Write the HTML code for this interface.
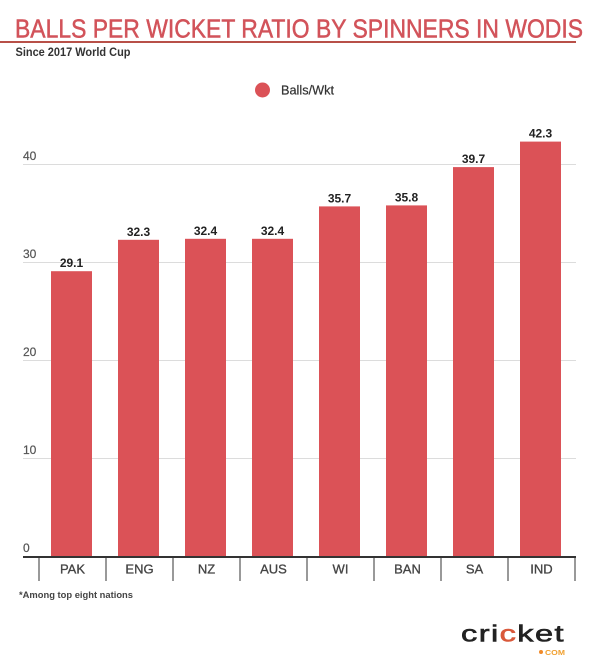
<!DOCTYPE html>
<html>
<head>
<meta charset="utf-8">
<style>
html,body{margin:0;padding:0;background:#fff;}
svg{display:block;}
text{font-family:"Liberation Sans",sans-serif;}
</style>
</head>
<body>
<svg width="600" height="671" viewBox="0 0 600 671" xmlns="http://www.w3.org/2000/svg">
  <rect width="600" height="671" fill="#fff"/>
  <!-- Title -->
  <text x="15" y="37.5" font-size="26" fill="#d2535a" stroke="#d2535a" stroke-width="0.5" textLength="568" lengthAdjust="spacingAndGlyphs">BALLS PER WICKET RATIO BY SPINNERS IN WODIS</text>
  <rect x="0" y="41" width="576" height="2" fill="#b85048"/>
  <text x="15.5" y="56" font-size="11.5" font-weight="bold" fill="#333" textLength="115" lengthAdjust="spacingAndGlyphs">Since 2017 World Cup</text>

  <!-- Legend -->
  <circle cx="262.5" cy="90" r="7.5" fill="#db5257"/>
  <text x="281" y="94.5" font-size="12.5" fill="#333" stroke="#333" stroke-width="0.2" textLength="53" lengthAdjust="spacingAndGlyphs">Balls/Wkt</text>

  <!-- Gridlines -->
  <g stroke="#dcdcdc" stroke-width="1">
    <line x1="23" y1="164.5" x2="576" y2="164.5"/>
    <line x1="23" y1="262.5" x2="576" y2="262.5"/>
    <line x1="23" y1="360.5" x2="576" y2="360.5"/>
    <line x1="23" y1="458.5" x2="576" y2="458.5"/>
  </g>
  <!-- Y labels -->
  <g font-size="12" fill="#555" stroke="#555" stroke-width="0.2">
    <text x="23" y="160">40</text>
    <text x="23" y="258">30</text>
    <text x="23" y="356">20</text>
    <text x="23" y="454">10</text>
    <text x="23" y="552">0</text>
  </g>

  <!-- Bars -->
  <g fill="#db5257">
    <rect x="51" y="271.2" width="41" height="285.8"/>
    <rect x="118" y="239.8" width="41" height="317.2"/>
    <rect x="185" y="238.8" width="41" height="318.2"/>
    <rect x="252" y="238.8" width="41" height="318.2"/>
    <rect x="319" y="206.4" width="41" height="350.6"/>
    <rect x="386" y="205.4" width="41" height="351.6"/>
    <rect x="453" y="167.1" width="41" height="389.9"/>
    <rect x="520" y="141.6" width="41" height="415.4"/>
  </g>
  <!-- Value labels -->
  <g font-size="12" font-weight="bold" fill="#222" text-anchor="middle">
    <text x="71.5" y="267.2">29.1</text>
    <text x="138.5" y="235.8">32.3</text>
    <text x="205.5" y="234.8">32.4</text>
    <text x="272.5" y="234.8">32.4</text>
    <text x="339.5" y="202.4">35.7</text>
    <text x="406.5" y="201.4">35.8</text>
    <text x="473.5" y="163.1">39.7</text>
    <text x="540.5" y="137.6">42.3</text>
  </g>

  <!-- Axis -->
  <rect x="23" y="556" width="553" height="2" fill="#333"/>
  <g stroke="#333" stroke-width="1">
    <line x1="39" y1="557" x2="39" y2="581"/>
    <line x1="106" y1="557" x2="106" y2="581"/>
    <line x1="173" y1="557" x2="173" y2="581"/>
    <line x1="240" y1="557" x2="240" y2="581"/>
    <line x1="307" y1="557" x2="307" y2="581"/>
    <line x1="374" y1="557" x2="374" y2="581"/>
    <line x1="441" y1="557" x2="441" y2="581"/>
    <line x1="508" y1="557" x2="508" y2="581"/>
    <line x1="575" y1="557" x2="575" y2="581"/>
  </g>
  <!-- Category labels -->
  <g font-size="13" fill="#444" stroke="#444" stroke-width="0.3" text-anchor="middle">
    <text x="72.5" y="573.5">PAK</text>
    <text x="139.5" y="573.5">ENG</text>
    <text x="206.5" y="573.5">NZ</text>
    <text x="273.5" y="573.5">AUS</text>
    <text x="340.5" y="573.5">WI</text>
    <text x="407.5" y="573.5">BAN</text>
    <text x="474.5" y="573.5">SA</text>
    <text x="541.5" y="573.5">IND</text>
  </g>

  <!-- Footnote -->
  <text x="19" y="598" font-size="9.5" font-weight="bold" fill="#444" textLength="114" lengthAdjust="spacingAndGlyphs">*Among top eight nations</text>

  <!-- Logo -->
  <text x="461" y="641.5" font-size="23" fill="#222" stroke="#222" stroke-width="0.6" textLength="104" lengthAdjust="spacingAndGlyphs" letter-spacing="1">cri<tspan fill="#d9583a" stroke="#d9583a">c</tspan>ket</text>
  <circle cx="541" cy="652" r="2" fill="#f08a2a"/>
  <text x="545" y="655" font-size="7" font-weight="bold" fill="#f0a030" textLength="20" lengthAdjust="spacingAndGlyphs">COM</text>
</svg>
</body>
</html>
